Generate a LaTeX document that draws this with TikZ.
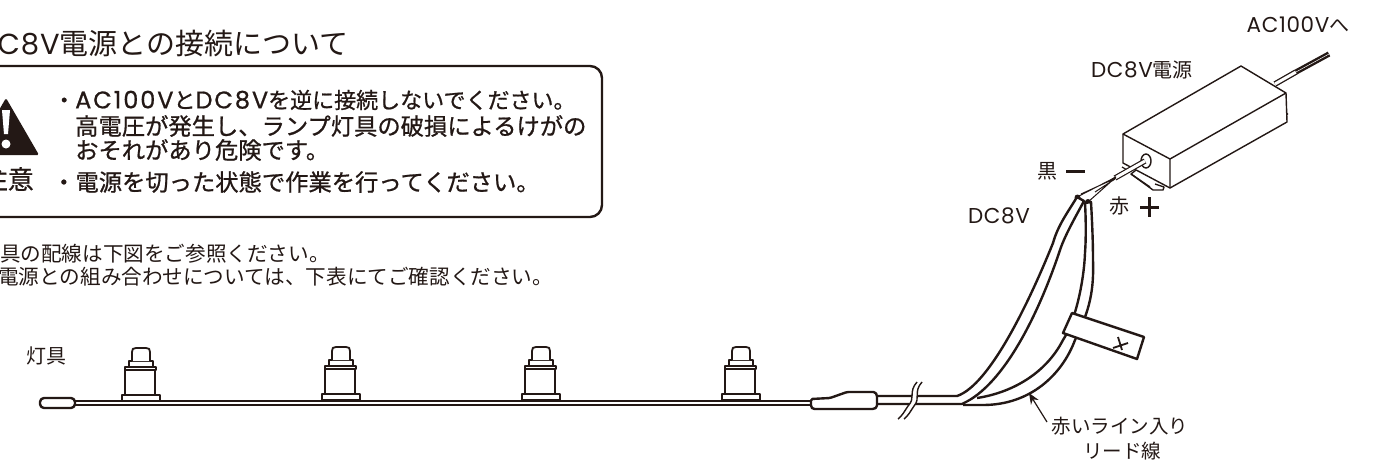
\documentclass[tikz,border=0pt]{standalone}
\usepackage{fontspec}
\setmainfont{Noto Sans CJK JP}
\newfontfamily\lat[LetterSpace=3]{Poppins}
\newfontfamily\latb[FakeBold=0.8,LetterSpace=8]{Poppins}
\usetikzlibrary{arrows.meta}
\definecolor{ink}{HTML}{231815}
\tikzset{
  txt/.style={inner sep=0pt,text=ink,font=\fontsize{#1}{#1}\selectfont},
  warn/.style={inner sep=0pt,anchor=west,text=ink,font=\fontsize{23.3}{23}\selectfont\addfontfeature{FakeBold=0.8}},
  ln/.style={draw=ink,line width=2.4pt,line join=round},
  thin ln/.style={draw=ink,line width=1.4pt,line join=round},
  lampstroke/.style={draw=ink,line width=1.3pt,fill=white,line join=round}
}
\newcommand{\lamp}[2]{%
  \begin{scope}[shift={(#1,#2)}]
    \draw[lampstroke] (-19,395) rectangle (19,401);
    \draw[lampstroke] (-16,370) rectangle (14,395);
    \draw[lampstroke,line width=1.8pt] (-16,367) rectangle (15,370);
    \draw[lampstroke,line width=1.8pt] (-12,361) rectangle (12,367);
    \draw[lampstroke,line width=1.8pt] (-9,361) -- (-9,352) .. controls (-9,349) and (-8,348) .. (-5,348) -- (5,348) .. controls (8,348) and (9,349) .. (9,352) -- (9,361);
  \end{scope}}
\begin{document}
\begin{tikzpicture}[x=1pt,y=-1pt]
\useasboundingbox (0,0) rectangle (1382,461);
\fill[white] (0,0) rectangle (1382,461);
% title
\node[txt=29,anchor=west] (title) at (-24,43) {{\lat DC8V}電源との接続について};
% warning box
\draw[ink,line width=2.4pt,rounded corners=12pt] (-20,66) rectangle (602,217);
\fill[ink,rounded corners=1.5pt] (6,98) -- (39,155) -- (-27,155) -- cycle;
\fill[white] (2,110) -- (10,110) -- (8,134) -- (4,134) -- cycle;
\fill[white] (6,144) circle (4.5);
\node[txt=26,anchor=east] (chui) at (34,179) {\addfontfeature{FakeBold=0.8}注意};
\node[warn,font=\fontsize{22}{22}\selectfont\addfontfeature{FakeBold=0.8}] (w1) at (53,100) {・{\fontsize{24}{24}\selectfont\latb AC100V}と{\fontsize{24}{24}\selectfont\latb DC8V}を逆に接続しないでください。};
\node[warn] (w2) at (75,126) {高電圧が発生し、ランプ灯具の破損によるけがの};
\node[warn] (w3) at (75,150) {おそれがあり危険です。};
\node[warn] (w4) at (52,182) {・電源を切った状態で作業を行ってください。};
\node[txt=20.6,anchor=west] (n1) at (-20.6,254) {灯具の配線は下図をご参照ください。};
\node[txt=20.6,anchor=west] (n2) at (-2,277) {電源との組み合わせについては、下表にてご確認ください。};
% labels
\node[txt=20] (lampl) at (46,356) {灯具};
\node[txt=20] (ac) at (1298,25) {{\fontsize{21.5}{21.5}\selectfont\lat AC100V}へ};
\node[txt=20] (dcp) at (1142,70) {{\fontsize{21.5}{21.5}\selectfont\lat DC8V}電源};
\node[txt=21.5] (dc) at (999,216) {\lat DC8V};
\node[txt=20] (black) at (1047,171) {黒};
\node[txt=20] (red) at (1119,206) {赤};
\node[txt=19.5] (rl1) at (1120,426) {赤いライン入り};
\node[txt=19.5] (rl2) at (1122,451) {リード線};
\draw[ink,line width=3pt] (1066,171) -- (1085,171);
\draw[ink,line width=3pt] (1140,207) -- (1159,207) (1149.5,197) -- (1149.5,217);
% AC cable
\draw[ink,line width=1.3pt,double=white,double distance=3pt] (1275,84) -- (1296,72);
\draw[ink,line width=2.4pt,double=white,double distance=.5pt] (1296,72) -- (1329,54);
% mount tab
\draw[thin ln,fill=white] (1136,170) -- (1131,174) -- (1153,190) -- (1163,190) -- (1164,187) -- (1155,184);
\draw[thin ln] (1131,174) -- (1150,187);
\draw[ink,fill=ink] (1287,114) circle (1.2);
% supply body
\draw[thin ln,fill=white] (1123,134) -- (1241,66) -- (1286,93) -- (1287,122) -- (1170,188) -- (1123,163) -- cycle;
\draw[thin ln] (1123,134) -- (1170,159) -- (1286,93) (1170,159) -- (1170,188);
\draw[thin ln,fill=white] (1146,161) ellipse (5 and 7);
% cable out of supply
\draw[ink,line width=1.2pt] (1122,167) -- (1127,170);
\draw[ink,line width=1.2pt,double=white,double distance=3pt] (1145,161) -- (1115,178);
\fill[ink] (1116,176) -- (1113,181) -- (1110,180) -- cycle;
\draw[ink,line width=1pt] (1116,177) -- (1077,197) (1116,178) -- (1081,194) (1115,178) -- (1088,202) (1115,179) -- (1095,192);
\fill[ink] (1077.5,197.5) circle (3) (1088,202) circle (3);
% lead wire 1 (left)
\draw[ln,fill=white] (877,396) -- (957,396) .. controls (990,385) and (1030,300) .. (1053,243) .. controls (1058,225) and (1068,212) .. (1077,197) -- (1084,201) .. controls (1076,216) and (1065,235) .. (1060,250) .. controls (1040,310) and (1005,385) .. (962,404) -- (877,404);
% lead wire 2 (right)
\draw[ln,fill=white] (963,405) -- (983,405) .. controls (1030,405) and (1062,375) .. (1075,340) .. controls (1090,310) and (1094,290) .. (1093,260) .. controls (1093,240) and (1092,220) .. (1091,202) -- (1085,203) .. controls (1086,220) and (1086,240) .. (1085,253) .. controls (1084,280) and (1076,320) .. (1063,340) .. controls (1045,375) and (1010,393) .. (977,398);
% tag
\draw[ln,fill=white] (1072,313) -- (1144,337) -- (1137,359) -- (1063,333) -- cycle;
\draw[ink,line width=1.8pt] (1113,348) -- (1128,343) (1118,337) -- (1122,350);
% break mark
\fill[white] (917,382) .. controls (908,392) and (916,398) .. (908,406) .. controls (904,412) and (902,416) .. (898,419) -- (904,419) .. controls (908,416) and (911,412) .. (914,406) .. controls (921,398) and (914,392) .. (922,382) -- cycle;
\draw[thin ln] (917,382) .. controls (908,392) and (916,398) .. (908,406) .. controls (904,412) and (902,416) .. (898,419);
\draw[thin ln] (922,382) .. controls (913,392) and (921,398) .. (914,406) .. controls (910,412) and (908,416) .. (904,419);
% main wire
\draw[ink,line width=2pt,double=white,double distance=1.6pt] (75,403) -- (812,403);
% connector
\draw[ln,fill=white,rounded corners=1.5pt] (811,399) -- (830,398) -- (847,392) -- (875,392) -- (877,395) -- (877,407) -- (874,409) -- (813,409) -- (811,407) -- cycle;
% end plug
\draw[ln,fill=white,rounded corners=4pt] (40,398) rectangle (75,408);
% lamps
\lamp{141}{0}
\lamp{341}{-1}
\lamp{541}{-1}
\lamp{741}{-1}
% arrow
\coordinate (at) at (1029,393);
\coordinate (af) at (1047,422);
\draw[ink,line width=1.2pt,-{Stealth[length=11pt,width=9pt]}] (af) -- (at);
\end{tikzpicture}
\end{document}
